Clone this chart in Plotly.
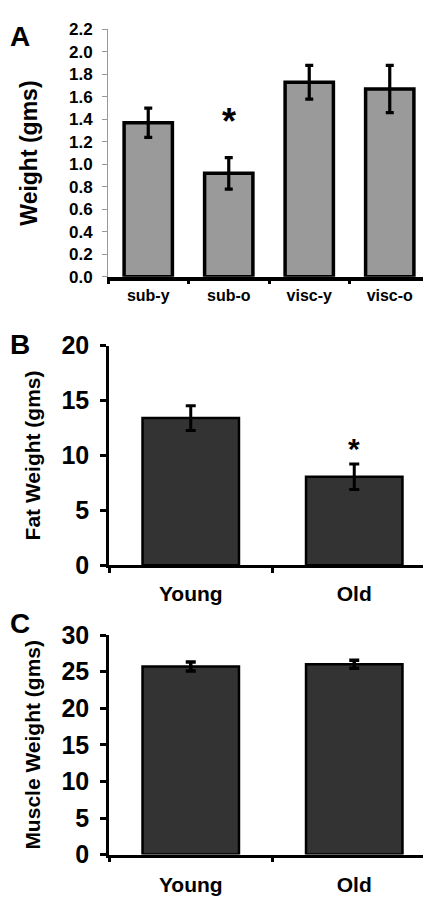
import plotly.graph_objects as go

# ---- data ----
a_categories = ["sub-y", "sub-o", "visc-y", "visc-o"]
a_values = [1.37, 0.92, 1.73, 1.67]
a_errors = [0.13, 0.14, 0.15, 0.21]

b_categories = ["Young", "Old"]
b_values = [13.4, 8.05]
b_errors = [1.13, 1.16]

c_categories = ["Young", "Old"]
c_values = [25.7, 26.0]
c_errors = [0.6, 0.55]

a_ticks = [0.0, 0.2, 0.4, 0.6, 0.8, 1.0, 1.2, 1.4, 1.6, 1.8, 2.0, 2.2]
b_ticks = [0, 5, 10, 15, 20]
c_ticks = [0, 5, 10, 15, 20, 25, 30]

FONT = "Liberation Sans, Arial, sans-serif"
W, H = 431, 901

fig = go.Figure()

fig.add_trace(go.Bar(
    x=a_categories, y=a_values, width=0.6,
    marker=dict(color="#9a9a9a", line=dict(color="black", width=3.5)),
    error_y=dict(type="data", array=a_errors, color="black", thickness=3.2, width=4),
    xaxis="x", yaxis="y", showlegend=False,
))
fig.add_trace(go.Bar(
    x=b_categories, y=b_values, width=0.59,
    marker=dict(color="#333333", line=dict(color="black", width=2.5)),
    error_y=dict(type="data", array=b_errors, color="black", thickness=3, width=5),
    xaxis="x2", yaxis="y2", showlegend=False,
))
fig.add_trace(go.Bar(
    x=c_categories, y=c_values, width=0.59,
    marker=dict(color="#333333", line=dict(color="black", width=2.5)),
    error_y=dict(type="data", array=c_errors, color="black", thickness=3.5, width=5),
    xaxis="x3", yaxis="y3", showlegend=False,
))

def xdom(l, r):
    return [l / W, r / W]

def ydom(top, bottom):
    return [1 - bottom / H, 1 - top / H]

bold = lambda s: dict(family=FONT, size=s, color="black", weight="bold")

fig.update_layout(
    width=W, height=H,
    margin=dict(l=0, r=0, t=0, b=0),
    paper_bgcolor="white", plot_bgcolor="white",
    xaxis=dict(domain=xdom(100, 422), anchor="y", type="category", tickson="boundaries",
               ticks="outside", ticklen=3, tickwidth=3, tickcolor="black",
               showline=True, linecolor="black", linewidth=3.5, showgrid=False,
               tickfont=bold(16), ticklabelstandoff=1),
    yaxis=dict(domain=ydom(7.5, 263), anchor="x", range=[0, 2.2], tickvals=a_ticks,
               tickformat=".1f", ticks="outside", ticklen=5, tickwidth=1, tickcolor="#999999",
               showline=True, linecolor="#999999", linewidth=1, showgrid=False, zeroline=False,
               tickfont=bold(17), ticklabelstandoff=6,
               title=dict(text="Weight (gms)", font=bold(23), standoff=24)),
    xaxis2=dict(domain=xdom(101, 428), anchor="y2", type="category", tickson="boundaries",
                ticks="outside", ticklen=5, tickwidth=2.5, tickcolor="black",
                showline=True, linecolor="black", linewidth=2.5, showgrid=False,
                tickfont=bold(21), ticklabelstandoff=8),
    yaxis2=dict(domain=ydom(334, 560.7), anchor="x2", range=[0, 20], tickvals=b_ticks,
                ticks="outside", ticklen=6, tickwidth=2.5, tickcolor="black",
                showline=True, linecolor="black", linewidth=2.5, showgrid=False, zeroline=False,
                tickfont=bold(25), ticklabelstandoff=6,
                title=dict(text="Fat Weight (gms)", font=bold(21), standoff=16)),
    xaxis3=dict(domain=xdom(101, 428), anchor="y3", type="category", tickson="boundaries",
                ticks="outside", ticklen=5, tickwidth=2.5, tickcolor="black",
                showline=True, linecolor="black", linewidth=2.5, showgrid=False,
                tickfont=bold(21), ticklabelstandoff=9),
    yaxis3=dict(domain=ydom(632.7, 859.3), anchor="x3", range=[0, 30], tickvals=c_ticks,
                ticks="outside", ticklen=6, tickwidth=2.5, tickcolor="black",
                showline=True, linecolor="black", linewidth=2.5, showgrid=False, zeroline=False,
                tickfont=bold(25), ticklabelstandoff=6,
                title=dict(text="Muscle Weight (gms)", font=bold(21), standoff=16)),
)

annotations = [
    dict(text="A", x=0, y=1 - 15 / H, xref="paper", yref="paper", xanchor="left", yanchor="middle",
         showarrow=False, font=bold(28)),
    dict(text="B", x=0, y=1 - 333 / H, xref="paper", yref="paper", xanchor="left", yanchor="middle",
         showarrow=False, font=bold(28)),
    dict(text="C", x=0, y=1 - 621 / H, xref="paper", yref="paper", xanchor="left", yanchor="middle",
         showarrow=False, font=bold(28)),
    dict(text="*", x="sub-o", y=1.45, xref="x", yref="y", yanchor="middle",
         showarrow=False, font=bold(36), yshift=-8),
    dict(text="*", x="Old", y=11.2, xref="x2", yref="y2", yanchor="middle",
         showarrow=False, font=bold(30), yshift=-6),
]
fig.update_layout(annotations=annotations)

fig.write_html("out.html")
